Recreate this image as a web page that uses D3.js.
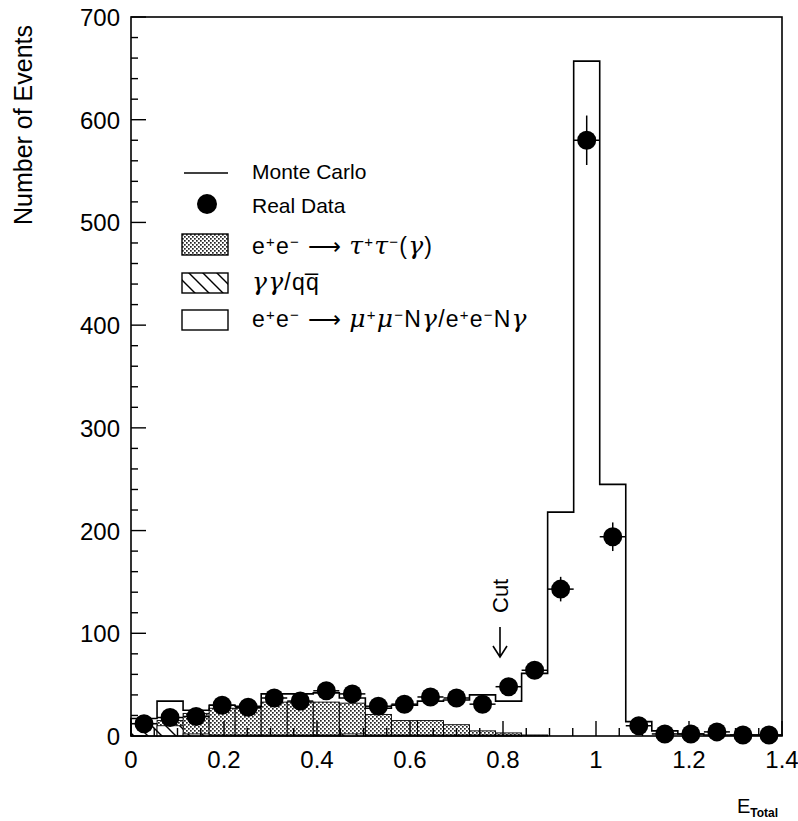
<!DOCTYPE html>
<html>
<head>
<meta charset="utf-8">
<script src="https://cdn.jsdelivr.net/npm/d3@7"></script>
<style>
  body { margin: 0; background: #fff; }
  svg { display: block; font-family: "Liberation Sans", Arial, sans-serif; }
</style>
</head>
<body>
<svg id="chart" width="798" height="821"></svg>
<script>
// bin centres of E_Total (bin width 0.056)
const binCenters = [0.028, 0.084, 0.14, 0.196, 0.252, 0.308, 0.364, 0.42, 0.476, 0.532,
  0.588, 0.644, 0.70, 0.756, 0.812, 0.868, 0.924, 0.98, 1.036, 1.092,
  1.148, 1.204, 1.26, 1.316, 1.372];
const binHalf = 0.028;

// Monte Carlo total and stacked components
const mcTotal = [17, 34, 25, 30, 29, 41, 41, 42, 37, 27, 30, 34, 35, 40, 34, 61, 218, 657, 245, 14, 5, 2, 1, 1, 1];
const mcTau   = [0, 5, 20, 26, 26, 32, 32, 32, 30, 20, 14, 14, 10, 4, 2, 1, 0, 0, 0, 0, 0, 0, 0, 0, 0];
const mcGG    = [12, 10, 2, 1, 1, 1, 1, 1, 2, 1, 1, 1, 1, 1, 1, 0, 0, 0, 0, 0, 0, 0, 0, 0, 0];

// real data
const dataCounts = [12, 18, 19, 30, 28, 37, 34, 44, 41, 29, 31, 38, 37, 31, 48, 64, 143, 580, 194, 10, 2, 2, 4, 1, 1];

const xTicks = [0, 0.2, 0.4, 0.6, 0.8, 1, 1.2, 1.4];
const yTicks = [0, 100, 200, 300, 400, 500, 600, 700];

const svg = d3.select('#chart');
const W = 798, H = 821;
const margin = { left: 131, right: 16, top: 17, bottom: 85 };

const x = d3.scaleLinear().domain([0, 1.4]).range([margin.left, W - margin.right]);
const y = d3.scaleLinear().domain([0, 700]).range([H - margin.bottom, margin.top]);

// patterns
const defs = svg.append('defs');
const stip = defs.append('pattern')
  .attr('id', 'stipple').attr('patternUnits', 'userSpaceOnUse')
  .attr('width', 4).attr('height', 4);
stip.append('rect').attr('width', 4).attr('height', 4).attr('fill', '#fff');
stip.append('rect').attr('x', 0).attr('y', 0).attr('width', 1.7).attr('height', 1.7).attr('fill', '#222');
stip.append('rect').attr('x', 2).attr('y', 2).attr('width', 1.7).attr('height', 1.7).attr('fill', '#222');

const hatch = defs.append('pattern')
  .attr('id', 'hatch').attr('patternUnits', 'userSpaceOnUse')
  .attr('width', 14).attr('height', 14);
hatch.append('rect').attr('width', 14).attr('height', 14).attr('fill', '#fff');
hatch.append('path').attr('d', 'M0,0 L14,14 M-7,7 L7,21 M7,-7 L21,7')
  .attr('stroke', '#000').attr('stroke-width', 1.4);

const plot = svg.append('g');

const bins = binCenters.map((c, i) => ({
  x0: c - binHalf, x1: c + binHalf,
  total: mcTotal[i], tau: mcTau[i], gg: mcGG[i]
}));

// stacked: tau + gg (stipple), then gg (hatch) on top; white mu layer is the rest
plot.append('g').selectAll('rect')
  .data(bins.filter(d => d.tau + d.gg > 0)).enter().append('rect')
  .attr('x', d => x(d.x0)).attr('width', d => x(d.x1) - x(d.x0))
  .attr('y', d => y(d.tau + d.gg)).attr('height', d => y(0) - y(d.tau + d.gg))
  .attr('fill', 'url(#stipple)').attr('stroke', '#000').attr('stroke-width', 0.9);

plot.append('g').selectAll('rect')
  .data(bins.filter(d => d.gg > 0)).enter().append('rect')
  .attr('x', d => x(d.x0)).attr('width', d => x(d.x1) - x(d.x0))
  .attr('y', d => y(d.gg)).attr('height', d => y(0) - y(d.gg))
  .attr('fill', 'url(#hatch)').attr('stroke', '#000').attr('stroke-width', 0.9);

// Monte Carlo outline
let pathD = `M${x(bins[0].x0)},${y(0)}`;
bins.forEach(b => { pathD += `L${x(b.x0)},${y(b.total)}L${x(b.x1)},${y(b.total)}`; });
pathD += `L${x(bins[bins.length - 1].x1)},${y(0)}`;
plot.append('path').attr('d', pathD)
  .attr('fill', 'none').attr('stroke', '#000').attr('stroke-width', 1.6);

// data points with error bars
const pts = plot.append('g');
binCenters.forEach((c, i) => {
  const v = dataCounts[i];
  const e = Math.sqrt(v);
  pts.append('line')
    .attr('x1', x(c - binHalf)).attr('x2', x(c + binHalf))
    .attr('y1', y(v)).attr('y2', y(v))
    .attr('stroke', '#000').attr('stroke-width', 1.5);
  pts.append('line')
    .attr('x1', x(c)).attr('x2', x(c))
    .attr('y1', y(Math.max(0, v - e))).attr('y2', y(v + e))
    .attr('stroke', '#000').attr('stroke-width', 1.5);
  pts.append('circle')
    .attr('cx', x(c)).attr('cy', y(v)).attr('r', 9.5).attr('fill', '#000');
});

// frame
svg.append('rect')
  .attr('x', margin.left).attr('y', margin.top)
  .attr('width', x(1.4) - x(0)).attr('height', y(0) - y(700))
  .attr('fill', 'none').attr('stroke', '#000').attr('stroke-width', 1.6);

// y axis: ticks inward
const yMinor = d3.range(0, 701, 20);
svg.append('g').selectAll('line')
  .data(yMinor).enter().append('line')
  .attr('x1', x(0)).attr('x2', d => x(0) + (d % 100 === 0 ? 15 : 7))
  .attr('y1', d => y(d)).attr('y2', d => y(d))
  .attr('stroke', '#000').attr('stroke-width', 1.4);
svg.append('g').selectAll('text')
  .data(yTicks).enter().append('text')
  .attr('x', x(0) - 11).attr('y', d => y(d) + 9)
  .attr('text-anchor', 'end').attr('font-size', 24)
  .text(d => d);

// x axis: ticks inward
const xMinor = d3.range(0, 29).map(i => i * 0.05);
svg.append('g').selectAll('line')
  .data(xMinor).enter().append('line')
  .attr('x1', d => x(d)).attr('x2', d => x(d))
  .attr('y1', y(0)).attr('y2', (d, i) => y(0) - (i % 4 === 0 ? 15 : 8))
  .attr('stroke', '#000').attr('stroke-width', 1.4);
svg.append('g').selectAll('text')
  .data(xTicks).enter().append('text')
  .attr('x', d => x(d)).attr('y', y(0) + 32)
  .attr('text-anchor', 'middle').attr('font-size', 24)
  .text(d => d);

// axis titles
svg.append('text')
  .attr('transform', `translate(32, 125) rotate(-90)`)
  .attr('text-anchor', 'middle').attr('font-size', 25)
  .text('Number of Events');

const xt = svg.append('text').attr('x', 737).attr('y', 813).attr('font-size', 20);
xt.append('tspan').text('E');
xt.append('tspan').attr('dy', 4).attr('font-size', 12).attr('font-weight', 'bold').text('Total');

// cut annotation
const cutX = x(0.8) - 3;
svg.append('text')
  .attr('transform', `translate(${cutX + 8}, 613) rotate(-90)`)
  .attr('font-size', 22).text('Cut');
svg.append('path')
  .attr('d', `M${cutX},627 L${cutX},657 M${cutX - 7},646 L${cutX},657 L${cutX + 7},646`)
  .attr('fill', 'none').attr('stroke', '#000').attr('stroke-width', 1.6);

// legend
const lg = svg.append('g');
const lx = 182, lw = 46, tx = 252;
lg.append('line').attr('x1', lx + 2).attr('x2', lx + lw).attr('y1', 173).attr('y2', 173)
  .attr('stroke', '#000').attr('stroke-width', 1.4);
lg.append('text').attr('x', tx).attr('y', 179).attr('font-size', 21).text('Monte Carlo');
lg.append('circle').attr('cx', 207).attr('cy', 204).attr('r', 10).attr('fill', '#000');
lg.append('text').attr('x', tx).attr('y', 213).attr('font-size', 21).text('Real Data');

lg.append('rect').attr('x', lx).attr('y', 234).attr('width', lw).attr('height', 21)
  .attr('fill', 'url(#stipple)').attr('stroke', '#000').attr('stroke-width', 1.4);
lg.append('rect').attr('x', lx).attr('y', 273).attr('width', lw).attr('height', 20)
  .attr('fill', 'url(#hatch)').attr('stroke', '#000').attr('stroke-width', 1.4);
lg.append('rect').attr('x', lx).attr('y', 310).attr('width', lw).attr('height', 20)
  .attr('fill', '#fff').attr('stroke', '#000').attr('stroke-width', 1.4);

// rich label: segments [text, kind] where kind: '' normal, 'g' greek, 's' superscript
function richText(yy, segs) {
  const t = lg.append('text').attr('x', tx).attr('y', yy).attr('font-size', 23)
    .attr('letter-spacing', 1.2);
  segs.forEach(([s, k]) => {
    const sp = t.append('tspan').text(s);
    if (k === 's') sp.attr('font-size', 15).attr('baseline-shift', '45%');
    if (k === 'g') sp.attr('font-family', '"DejaVu Serif", serif').attr('font-style', 'italic').attr('font-size', 25);
  });
}
const ARROW = ' \u27f6 ';
richText(254, [['e', ''], ['+', 's'], ['e', ''], ['\u2212', 's'], [ARROW, ''],
  ['\u03c4', 'g'], ['+', 's'], ['\u03c4', 'g'], ['\u2212', 's'], ['(', ''], ['\u03b3', 'g'], [')', '']]);
richText(290, [['\u03b3\u03b3', 'g'], ['/q', ''], ['q\u0305', '']]);
richText(327, [['e', ''], ['+', 's'], ['e', ''], ['\u2212', 's'], [ARROW, ''],
  ['\u03bc', 'g'], ['+', 's'], ['\u03bc', 'g'], ['\u2212', 's'], ['N', ''], ['\u03b3', 'g'],
  ['/e', ''], ['+', 's'], ['e', ''], ['\u2212', 's'], ['N', ''], ['\u03b3', 'g']]);
</script>
</body>
</html>
